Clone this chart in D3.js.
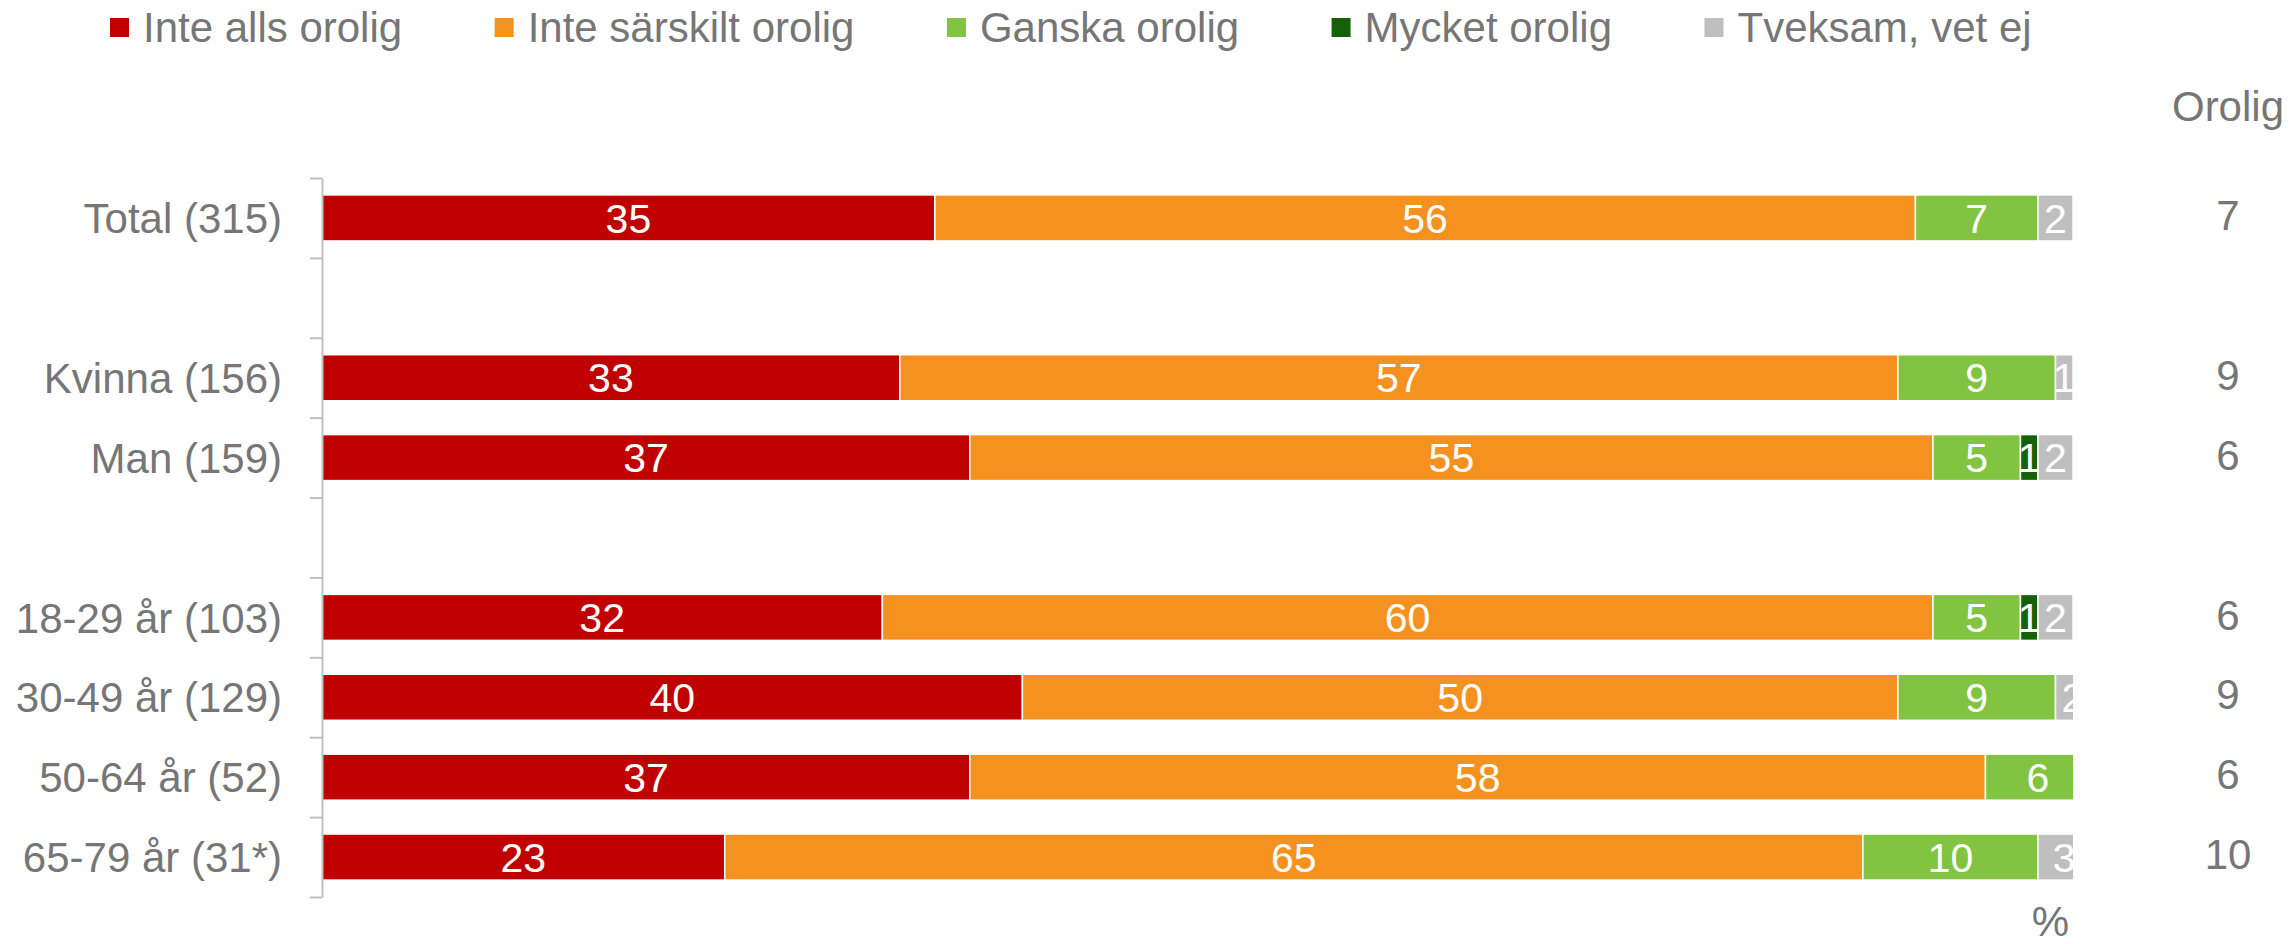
<html>
<head>
<meta charset="utf-8">
<script src="https://cdn.jsdelivr.net/npm/d3@7"></script>
<style>
  body { margin: 0; background: #fff; }
  text { font-family: "Liberation Sans", Arial, sans-serif; }
</style>
</head>
<body>
<script>
var width = 2290, height = 944;

// categories, with empty slots where the chart leaves a gap
var slots = ["Total (315)", "", "Kvinna (156)", "Man (159)", "", "18-29 år (103)", "30-49 år (129)", "50-64 år (52)", "65-79 år (31*)"];
var categories = ["Total (315)", "Kvinna (156)", "Man (159)", "18-29 år (103)", "30-49 år (129)", "50-64 år (52)", "65-79 år (31*)"];

var seriesNames = ["Inte alls orolig", "Inte särskilt orolig", "Ganska orolig", "Mycket orolig", "Tveksam, vet ej"];
var seriesColors = ["#c00000", "#f5921f", "#82c341", "#17600a", "#bfbfbf"];

var inteAlls    = [35, 33, 37, 32, 40, 37, 23];
var inteSarskilt = [56, 57, 55, 60, 50, 58, 65];
var ganska      = [7, 9, 5, 5, 9, 6, 10];
var mycket      = [0, 0, 1, 1, 0, 0, 0];
var tveksam     = [2, 1, 2, 2, 2, 0, 3];
var orolig      = [7, 9, 6, 6, 9, 6, 10];

var series = [inteAlls, inteSarskilt, ganska, mycket, tveksam];

var plotLeft = 322, plotRight = 2073, plotTop = 178, plotBottom = 897;
var textColor = "#767676";

var svg = d3.select("body").append("svg")
    .attr("width", width)
    .attr("height", height);

var x = d3.scaleLinear().domain([0, 100]).range([plotLeft, plotRight]);

var y = d3.scaleBand()
    .domain(slots.map(function(d, i){ return i; }))
    .range([plotTop, plotBottom])
    .paddingInner(0.424)
    .paddingOuter(0.212);

// stacked data
var rows = categories.map(function(c, i){
    var row = { cat: c, slot: slots.indexOf(c), segs: [] };
    var acc = 0;
    series.forEach(function(s, k){
        row.segs.push({ k: k, x0: acc, x1: acc + s[i], v: s[i] });
        acc += s[i];
    });
    return row;
});

svg.append("clipPath").attr("id", "plot")
  .append("rect")
    .attr("x", plotLeft).attr("y", 0)
    .attr("width", plotRight - plotLeft).attr("height", height);

var plot = svg.append("g").attr("clip-path", "url(#plot)");

var g = plot.selectAll("g.row")
    .data(rows)
    .enter().append("g")
    .attr("class", "row")
    .attr("transform", function(d){ return "translate(0," + y(d.slot) + ")"; });

g.selectAll("rect")
    .data(function(d){ return d.segs.filter(function(s){ return s.v > 0; }); })
    .enter().append("rect")
    .attr("x", function(d){ return x(d.x0); })
    .attr("width", function(d){ return x(d.x1) - x(d.x0); })
    .attr("height", y.bandwidth())
    .attr("fill", function(d){ return seriesColors[d.k]; })
    .attr("stroke", "#fff")
    .attr("stroke-width", 1.5);

g.selectAll("text")
    .data(function(d){ return d.segs.filter(function(s){ return s.v > 0; }); })
    .enter().append("text")
    .attr("x", function(d){ return x((d.x0 + d.x1) / 2); })
    .attr("y", y.bandwidth() / 2)
    .attr("dy", "0.36em")
    .attr("text-anchor", "middle")
    .attr("fill", "#fff")
    .style("font-size", "41px")
    .text(function(d){ return d.v; });

// axis with ticks on slot boundaries
var yTicks = d3.scaleLinear().domain([0, slots.length]).range([plotTop, plotBottom]);
var axis = svg.append("g")
    .attr("transform", "translate(" + plotLeft + ",0)")
    .call(d3.axisLeft(yTicks).tickValues(d3.range(slots.length + 1)).tickSize(12).tickSizeOuter(0).tickFormat(""));
axis.selectAll("path, line").attr("stroke", "#bfbfbf").attr("stroke-width", 2);

// category labels
svg.selectAll("text.cat")
    .data(rows)
    .enter().append("text")
    .attr("class", "cat")
    .attr("x", 282)
    .attr("y", function(d){ return y(d.slot) + y.bandwidth() / 2; })
    .attr("dy", "0.36em")
    .attr("text-anchor", "end")
    .attr("fill", textColor)
    .style("font-size", "42px")
    .text(function(d){ return d.cat; });

// Orolig column
svg.append("text")
    .attr("x", 2228).attr("y", 121)
    .attr("text-anchor", "middle")
    .attr("fill", textColor)
    .style("font-size", "42px")
    .text("Orolig");

svg.selectAll("text.orolig")
    .data(rows)
    .enter().append("text")
    .attr("class", "orolig")
    .attr("x", 2228)
    .attr("y", function(d){ return y(d.slot) + y.bandwidth() / 2 - 3; })
    .attr("dy", "0.36em")
    .attr("text-anchor", "middle")
    .attr("fill", textColor)
    .style("font-size", "42px")
    .text(function(d, i){ return orolig[i]; });

svg.append("text")
    .attr("x", 2069).attr("y", 936)
    .attr("text-anchor", "end")
    .attr("fill", textColor)
    .style("font-size", "42px")
    .text("%");

// legend
var legend = svg.append("g");
var lx = 110;
seriesNames.forEach(function(name, k){
    var item = legend.append("g").attr("transform", "translate(" + lx + ",0)");
    item.append("rect")
        .attr("x", 0).attr("y", 18)
        .attr("width", 19).attr("height", 19)
        .attr("fill", seriesColors[k]);
    var t = item.append("text")
        .attr("x", 33).attr("y", 42)
        .attr("fill", textColor)
        .style("font-size", "42px")
        .text(name);
    lx += 33 + t.node().getComputedTextLength() + 92.5;
});
</script>
</body>
</html>
